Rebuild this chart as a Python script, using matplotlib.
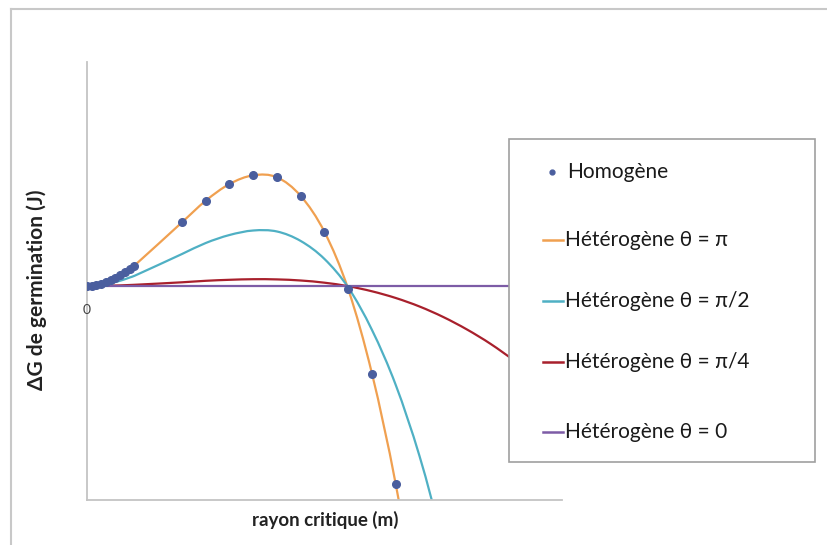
import numpy as np
import matplotlib
matplotlib.use("Agg")
import matplotlib.pyplot as plt
from matplotlib.path import Path
from matplotlib.patches import PathPatch, Rectangle
from matplotlib.lines import Line2D

plt.rcParams['font.family'] = ['Lato', 'DejaVu Sans']

# rayon critique (unités arbitraires)
rayon = [0, 0.1, 0.2, 0.3, 0.4, 0.5, 0.6, 0.7, 0.8, 0.9, 1.0,
         2.0, 2.5, 3.0, 3.5, 4.0, 4.5, 5.0, 5.5, 6.0, 6.5,
         7.0, 7.5, 8.0, 8.5, 9.0, 9.5, 10.0]

homogene = [0, 0.02, 0.10, 0.21, 0.37, 0.57, 0.80, 1.07, 1.37, 1.70, 2.05,
            6.37, 8.53, 10.2, 11.07, 10.87, 9.0, 5.4, -0.33, -8.77, -19.83]

het_pi = homogene + [-33.8, -51.4]
het_pi2 = [0, 0.01, 0.05, 0.11, 0.19, 0.29, 0.40, 0.53, 0.68, 0.85, 1.02,
           3.2, 4.3, 5.1, 5.55, 5.45, 4.5, 2.7, -0.15, -4.4, -9.9,
           -17.0, -25.7]
het_pi4 = [0, 0.0, 0.01, 0.01, 0.02, 0.03, 0.05, 0.06, 0.08, 0.10, 0.12,
           0.37, 0.52, 0.62, 0.68, 0.66, 0.55, 0.33, -0.02, -0.53, -1.2,
           -2.05, -3.1, -4.35, -5.8, -7.5, -9.5, -11.7]
het_0 = [0] * len(rayon)

labels = ['Homogène', 'Hétérogène θ = π', 'Hétérogène θ = π/2',
          'Hétérogène θ = π/4', 'Hétérogène θ = 0']
colors = ['#4a5e9e', '#f0a050', '#4fb0c4', '#a8202c', '#7d5ca6']


def smooth_line(ax, x, y, color, lw=1.6):
    # courbe lissée (type Excel) : hermite cubique avec pentes centrées
    x = np.asarray(x, float)
    y = np.asarray(y, float)
    n = len(x)
    m = np.zeros(n)
    m[0] = (y[1] - y[0]) / (x[1] - x[0])
    m[-1] = (y[-1] - y[-2]) / (x[-1] - x[-2])
    for i in range(1, n - 1):
        m[i] = (y[i + 1] - y[i - 1]) / (x[i + 1] - x[i - 1])
    verts = [(x[0], y[0])]
    codes = [Path.MOVETO]
    for i in range(n - 1):
        h = x[i + 1] - x[i]
        verts += [(x[i] + h / 3, y[i] + m[i] * h / 3),
                  (x[i + 1] - h / 3, y[i + 1] - m[i + 1] * h / 3),
                  (x[i + 1], y[i + 1])]
        codes += [Path.CURVE4] * 3
    ax.add_patch(PathPatch(Path(verts, codes), fill=False, ec=color, lw=lw,
                           transform=ax.transData))


W, H = 828, 545
fig = plt.figure(figsize=(W / 100, H / 100), dpi=100)
ax = fig.add_axes([87 / W, (H - 500) / H, (562 - 87) / W, (500 - 62) / H])

smooth_line(ax, rayon[:len(het_pi)], het_pi, colors[1])
smooth_line(ax, rayon[:len(het_pi2)], het_pi2, colors[2])
smooth_line(ax, rayon, het_pi4, colors[3])
smooth_line(ax, rayon, het_0, colors[4])
ax.plot(rayon[:len(homogene)], homogene, 'o', color=colors[0], ms=5.5, zorder=5)

ax.set_xlim(0, 10)
ax.set_ylim(-21.4, 22.4)
ax.set_xticks([])
ax.set_yticks([])
for s in ['top', 'right']:
    ax.spines[s].set_visible(False)
for s in ['left', 'bottom']:
    ax.spines[s].set_color('#c4c4c4')
    ax.spines[s].set_linewidth(1.3)

ax.annotate('0', xy=(0, 0), xytext=(0, -24), textcoords='offset pixels',
            ha='center', va='center', fontsize=10, color='#404040')

fig.text(325 / W, 1 - 520 / H, 'rayon critique (m)', ha='center', va='center',
         fontsize=13.5, fontweight='bold', color='#222222')
fig.text(37 / W, 1 - 290 / H, 'ΔG de germination (J)', ha='center', va='center',
         rotation=90, fontsize=15, fontweight='bold', color='#222222')

# cadre du graphique
fig.add_artist(Line2D([11 / W, 1], [1 - 9 / H, 1 - 9 / H], color='#c8c8c8', lw=1.5))
fig.add_artist(Line2D([11 / W, 11 / W], [0, 1 - 9 / H], color='#c8c8c8', lw=1.5))

# légende
fig.add_artist(Rectangle((509 / W, 1 - 462 / H), (815 - 509) / W, (462 - 139) / H,
                         transform=fig.transFigure, fc='white', ec='#a0a0a0', lw=1.2,
                         zorder=10))
rows = [172, 240, 301, 362, 432]
for i, (lab, col) in enumerate(zip(labels, colors)):
    yy = 1 - rows[i] / H
    if i == 0:
        fig.add_artist(Line2D([552 / W], [yy], marker='o', ms=3.5, color=col,
                              ls='none', zorder=11))
        tx = 567
    else:
        fig.add_artist(Line2D([543 / W, 563 / W], [yy, yy], color=col, lw=1.8,
                              zorder=11))
        tx = 565
    fig.text(tx / W, yy, lab, ha='left', va='center', fontsize=15,
             color='#1a1a1a', zorder=12)

fig.savefig('out.png', dpi=100)
